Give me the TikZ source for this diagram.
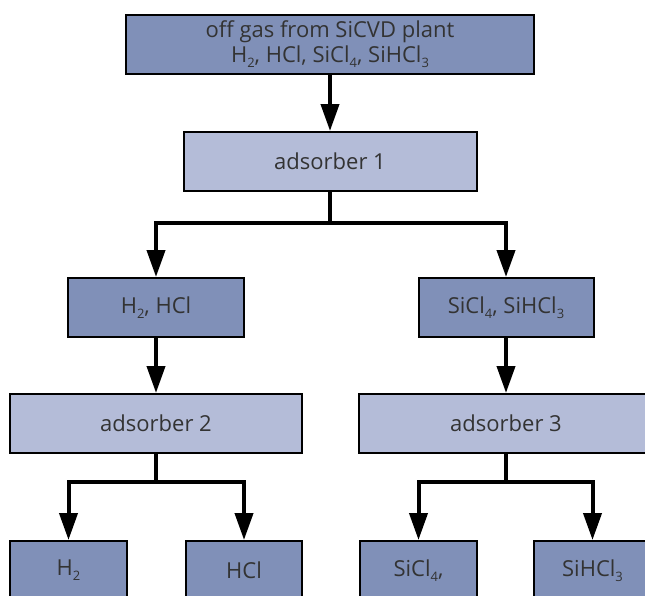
\documentclass[tikz,border=0pt]{standalone}
\usepackage{fontspec}
\setmainfont{Open Sans}
\usetikzlibrary{arrows.meta}

\definecolor{gasblue}{HTML}{8090B8}
\definecolor{adsblue}{HTML}{B4BCD8}
\definecolor{textgrey}{HTML}{333333}

% low, small index for the formulas
\newcommand{\idx}[1]{\raisebox{-5pt}{\fontsize{13}{13}\selectfont #1}}

\begin{document}
\begin{tikzpicture}[x=1pt,y=-1pt,
  box/.style={draw,line width=2pt,rectangle,minimum height=59pt,inner sep=0pt,
    text=textgrey,font=\fontsize{22}{25}\selectfont,align=center},
  gas/.style={box,fill=gasblue},
  ads/.style={box,fill=adsblue},
  pipe/.style={line width=4pt},
  flow/.style={pipe,-{Triangle[length=27pt,width=18pt]}}]

\useasboundingbox (0,0) rectangle (645,595);
\clip (0,0) rectangle (645,595);

\def\cx{330} \def\lx{156} \def\rx{506}
\def\ay{44.5} \def\by{161.5} \def\cy{307.5} \def\dy{423.5} \def\ey{570.5}

\node [gas,minimum width=408pt] (offgas) at (\cx,\ay)
  {off gas from SiCVD plant\\H\idx{2}, HCl, SiCl\idx{4}, SiHCl\idx{3}};
\node [ads,minimum width=293pt] (ads1) at (\cx,\by) {adsorber 1};

\node [gas,minimum width=176pt] (mixL) at (\lx,\cy) {H\idx{2}, HCl};
\node [gas,minimum width=175pt] (mixR) at (\rx,\cy) {SiCl\idx{4}, SiHCl\idx{3}};

\node [ads,minimum width=292pt] (ads2) at (\lx,\dy) {adsorber 2};
\node [ads,minimum width=294pt] (ads3) at (\rx,\dy) {adsorber 3};

% products, cut off at the lower edge
\node [gas,minimum width=117pt] (prodH) at (68.5,\ey) {H\idx{2}};
\node [gas,minimum width=116pt] (prodHCl) at (244,\ey) {HCl};
\node [gas,minimum width=117pt] (prodSiCl) at (418.5,\ey) {SiCl\idx{4},};
\node [gas,minimum width=117pt] (prodSiHCl) at (592.5,\ey) {SiHCl\idx{3}};

\coordinate (split1) at (\cx,223);
\coordinate (split2) at (\lx,482);
\coordinate (split3) at (\rx,482);

\draw [flow] (offgas) -- (ads1);
\draw [pipe] (ads1) -- (split1);
\draw [flow] (split1) -| (mixL);
\draw [flow] (split1) -| (mixR);

\draw [flow] (mixL) -- (ads2);
\draw [flow] (mixR) -- (ads3);

\draw [pipe] (ads2) -- (split2);
\draw [flow] (split2) -| (prodH);
\draw [flow] (split2) -| (prodHCl);
\draw [pipe] (ads3) -- (split3);
\draw [flow] (split3) -| (prodSiCl);
\draw [flow] (split3) -| (prodSiHCl);
\end{tikzpicture}
\end{document}
